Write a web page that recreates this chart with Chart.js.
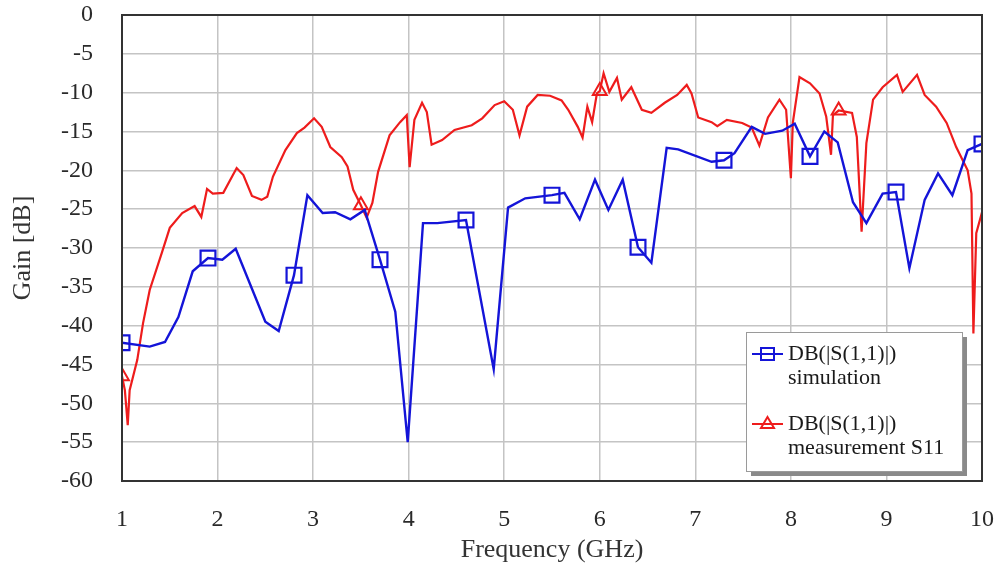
<!DOCTYPE html>
<html>
<head>
<meta charset="utf-8">
<script src="https://cdn.jsdelivr.net/npm/chart.js@4.4.1/dist/chart.umd.min.js"></script>
<style>
    html, body { margin: 0; padding: 0; background: #ffffff; }
    #wrap { width: 996px; height: 567px; }
</style>
</head>
<body>
<div id="wrap"><canvas id="chartS11" width="996" height="567"></canvas></div>
<script>
// simulation DB(|S(1,1)|)
const simFreq = [1.00, 1.29, 1.45, 1.59, 1.74, 1.90, 2.05, 2.19, 2.50, 2.64, 2.80, 2.94, 3.10, 3.23, 3.39, 3.54,
    3.70, 3.86, 3.99, 4.15, 4.30, 4.60, 4.89, 5.04, 5.22, 5.50, 5.63, 5.79, 5.95, 6.09, 6.24, 6.40, 6.54, 6.70,
    6.82, 7.17, 7.30, 7.41, 7.59, 7.73, 7.91, 8.04, 8.20, 8.35, 8.49, 8.65, 8.79, 8.96, 9.10, 9.24, 9.40, 9.54,
    9.69, 9.85, 10.00];
const simGain = [-42.2, -42.7, -42.1, -38.9, -33.0, -31.3, -31.5, -30.1, -39.5, -40.7, -33.5, -23.2, -25.5, -25.4, -26.3, -25.1,
    -31.5, -38.2, -55.0, -26.8, -26.8, -26.4, -45.6, -24.8, -23.6, -23.2, -22.9, -26.3, -21.2, -25.1, -21.2, -29.9, -31.9, -17.1,
    -17.3, -18.9, -18.7, -17.8, -14.4, -15.3, -14.9, -14.0, -18.2, -15.0, -16.4, -24.1, -26.8, -23.0, -22.8, -32.6, -23.8, -20.4,
    -23.2, -17.4, -16.6];
const simMarkers = [1.0, 1.9, 2.8, 3.7, 4.6, 5.5, 6.4, 7.3, 8.2, 9.1, 10.0];

// measurement S11
const measFreq = [1.00, 1.03, 1.06, 1.08, 1.16, 1.22, 1.29, 1.42, 1.50, 1.63, 1.76, 1.83, 1.89, 1.95, 2.06, 2.20,
    2.27, 2.36, 2.46, 2.52, 2.58, 2.71, 2.83, 2.91, 3.01, 3.09, 3.18, 3.30, 3.36, 3.42, 3.50, 3.56, 3.62, 3.68,
    3.80, 3.91, 3.98, 4.01, 4.06, 4.14, 4.19, 4.24, 4.35, 4.48, 4.66, 4.77, 4.90, 5.00, 5.09, 5.16, 5.24, 5.35,
    5.48, 5.60, 5.67, 5.77, 5.82, 5.87, 5.92, 5.97, 6.00, 6.04, 6.10, 6.18, 6.23, 6.33, 6.44, 6.54, 6.68, 6.81,
    6.91, 6.96, 7.03, 7.17, 7.23, 7.33, 7.49, 7.59, 7.67, 7.76, 7.88, 7.95, 8.00, 8.02, 8.09, 8.20, 8.30, 8.37,
    8.42, 8.44, 8.50, 8.64, 8.69, 8.74, 8.79, 8.86, 8.96, 9.11, 9.17, 9.32, 9.40, 9.52, 9.63, 9.73, 9.85, 9.89,
    9.91, 9.94, 10.00];
const measGain = [-46.5, -48.3, -52.8, -48.3, -44.4, -39.7, -35.4, -30.5, -27.4, -25.5, -24.6, -26.0, -22.4, -23.0, -22.9, -19.7,
    -20.6, -23.3, -23.8, -23.4, -20.8, -17.4, -15.2, -14.5, -13.3, -14.4, -17.0, -18.3, -19.5, -22.5, -24.5, -26.1, -24.2, -20.2,
    -15.5, -13.8, -12.9, -19.6, -13.5, -11.3, -12.5, -16.7, -16.1, -14.8, -14.2, -13.3, -11.6, -11.1, -12.2, -15.5, -11.8, -10.3,
    -10.4, -11.0, -12.2, -14.4, -15.8, -11.8, -13.8, -10.1, -9.8, -7.5, -9.9, -8.1, -10.9, -9.3, -12.2, -12.6, -11.3, -10.3,
    -9.0, -10.1, -13.2, -13.8, -14.3, -13.5, -13.9, -14.5, -16.8, -13.2, -10.9, -12.2, -21.0, -13.9, -8.0, -8.8, -10.1, -13.1,
    -18.0, -12.9, -12.3, -12.6, -15.7, -27.9, -16.5, -10.9, -9.3, -7.7, -9.9, -7.7, -10.3, -11.8, -13.9, -17.0, -20.0, -23.0,
    -41.0, -28.1, -25.4];
const measMarkers = [1.0, 3.5, 6.0, 8.5];

const xTicks = [1, 2, 3, 4, 5, 6, 7, 8, 9, 10];
const yTicks = [0, -5, -10, -15, -20, -25, -30, -35, -40, -45, -50, -55, -60];

const BLUE = '#1414d8';
const RED = '#ee1c1c';
const SERIF = '"Liberation Serif", "DejaVu Serif", serif';

function toPoints(xs, ys) {
    return xs.map(function (x, i) { return { x: x, y: ys[i] }; });
}

function markerRadius(list, r) {
    return function (ctx) {
        const raw = ctx.raw;
        if (!raw) return 0;
        return list.some(function (m) { return Math.abs(m - raw.x) < 0.001; }) ? r : 0;
    };
}

// plot frame + legend box drawn inside the plot area
const framePlugin = {
    id: 'frame',
    afterDatasetsDraw: function (chart) {
        const ctx = chart.ctx;
        const a = chart.chartArea;
        ctx.save();
        ctx.strokeStyle = '#333333';
        ctx.lineWidth = 2;
        ctx.strokeRect(a.left, a.top, a.right - a.left, a.bottom - a.top);

        // legend
        const lx = 746, ly = 332, lw = 216, lh = 139;
        ctx.fillStyle = '#8a8a8a';
        ctx.fillRect(lx + 5, ly + 5, lw, lh);
        ctx.fillStyle = '#ffffff';
        ctx.fillRect(lx, ly, lw, lh);
        ctx.strokeStyle = '#9a9a9a';
        ctx.lineWidth = 1;
        ctx.strokeRect(lx + 0.5, ly + 0.5, lw, lh);

        const entries = [
            { ds: chart.data.datasets[0], y: 354, lines: ['DB(|S(1,1)|)', 'simulation'] },
            { ds: chart.data.datasets[1], y: 424, lines: ['DB(|S(1,1)|)', 'measurement S11'] }
        ];
        entries.forEach(function (e) {
            ctx.strokeStyle = e.ds.borderColor;
            ctx.lineWidth = 2;
            ctx.beginPath();
            ctx.moveTo(752, e.y);
            ctx.lineTo(783, e.y);
            ctx.stroke();
            ctx.beginPath();
            if (e.ds.pointStyle === 'rect') {
                ctx.rect(761, e.y - 6, 13, 12);
            } else {
                ctx.moveTo(767.5, e.y - 7);
                ctx.lineTo(774, e.y + 4);
                ctx.lineTo(761, e.y + 4);
                ctx.closePath();
            }
            ctx.stroke();
            ctx.fillStyle = '#1a1a1a';
            ctx.font = '22px ' + SERIF;
            ctx.textBaseline = 'middle';
            ctx.textAlign = 'left';
            ctx.fillText(e.lines[0], 788, e.y);
            ctx.fillText(e.lines[1], 788, e.y + 24);
        });
        ctx.restore();
    }
};

const bgPlugin = {
    id: 'bg',
    beforeDraw: function (chart) {
        const ctx = chart.ctx;
        ctx.save();
        ctx.fillStyle = '#ffffff';
        ctx.fillRect(0, 0, chart.width, chart.height);
        ctx.restore();
    }
};

new Chart(document.getElementById('chartS11'), {
    type: 'line',
    data: {
        datasets: [{
            label: 'DB(|S(1,1)|) simulation',
            data: toPoints(simFreq, simGain),
            borderColor: BLUE,
            borderWidth: 2.4,
            tension: 0,
            pointStyle: 'rect',
            pointRadius: markerRadius(simMarkers, 10.5),
            pointBorderColor: BLUE,
            pointBorderWidth: 2.2,
            pointBackgroundColor: 'rgba(0,0,0,0)',
            pointHoverRadius: 0
        }, {
            label: 'DB(|S(1,1)|) measurement S11',
            data: toPoints(measFreq, measGain),
            borderColor: RED,
            borderWidth: 2.2,
            tension: 0,
            pointStyle: 'triangle',
            pointRadius: markerRadius(measMarkers, 8),
            pointBorderColor: RED,
            pointBorderWidth: 2,
            pointBackgroundColor: 'rgba(0,0,0,0)',
            pointHoverRadius: 0
        }]
    },
    options: {
        responsive: false,
        animation: false,
        events: [],
        layout: { padding: { left: 0, right: 14, top: 15, bottom: 0 } },
        plugins: {
            legend: { display: false },
            tooltip: { enabled: false }
        },
        scales: {
            x: {
                type: 'linear',
                min: 1,
                max: 10,
                afterBuildTicks: function (axis) {
                    axis.ticks = xTicks.map(function (v) { return { value: v }; });
                },
                afterFit: function (axis) {
                    axis.height = 86;
                    axis.paddingLeft = 0;
                    axis.paddingRight = 0;
                },
                grid: { color: '#c4c4c4', lineWidth: 1.5, drawTicks: false },
                border: { display: false },
                ticks: {
                    padding: 24,
                    color: '#2a2a2a',
                    font: { family: SERIF, size: 24 },
                    maxRotation: 0
                },
                title: {
                    display: true,
                    text: 'Frequency (GHz)',
                    color: '#333333',
                    font: { family: SERIF, size: 26 },
                    padding: { top: 0, bottom: 1 }
                }
            },
            y: {
                min: -60,
                max: 0,
                afterBuildTicks: function (axis) {
                    axis.ticks = yTicks.map(function (v) { return { value: v }; });
                },
                afterFit: function (axis) {
                    axis.width = 122;
                    axis.paddingTop = 0;
                    axis.paddingBottom = 0;
                },
                grid: { color: '#c4c4c4', lineWidth: 1.5, drawTicks: false },
                border: { display: false },
                ticks: {
                    padding: 29,
                    color: '#2a2a2a',
                    font: { family: SERIF, size: 24 }
                },
                title: {
                    display: true,
                    text: 'Gain [dB]',
                    color: '#333333',
                    font: { family: SERIF, size: 26 },
                    padding: { top: 8, bottom: 0 }
                }
            }
        }
    },
    plugins: [bgPlugin, framePlugin]
});
</script>
</body>
</html>
